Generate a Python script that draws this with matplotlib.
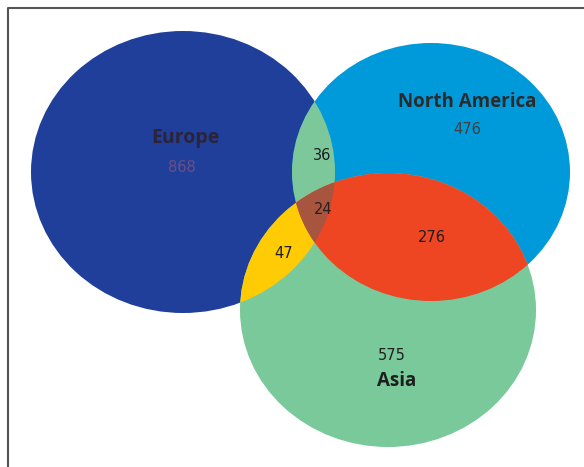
import numpy as np
import matplotlib
matplotlib.use("Agg")
import matplotlib.pyplot as plt
from matplotlib.patches import Ellipse, Polygon

# set names and counts for each region
set_names = ["Europe", "North America", "Asia"]
only_counts = [868, 476, 575]
pair_labels = ["Europe & North America", "Europe & Asia", "North America & Asia"]
pair_counts = [36, 47, 276]
triple_count = 24

# layout of the ellipses (pixel coords, y down)
centers = [(183, 172), (431, 172), (388, 310)]
radii = [(152, 141), (139, 129), (148, 137)]
set_colors = ["#1f3f9a", "#0099da", "#79c99a"]
pair_colors = ["#7dc89b", "#ffcb05", "#ee4523"]
triple_color = "#a8553f"

fig = plt.figure(figsize=(5.84, 4.67), dpi=100)
ax = fig.add_axes([0, 0, 1, 1])
ax.set_xlim(0, 584)
ax.set_ylim(467, 0)
ax.axis("off")

# frame line top and left
ax.plot([8, 8, 584], [467, 8, 8], color="#555555", lw=1.5, solid_capstyle="butt")


def ell(i, color):
    (cx, cy), (rx, ry) = centers[i], radii[i]
    return Ellipse((cx, cy), 2 * rx, 2 * ry, facecolor=color, edgecolor="none")


def ell_points(i, n=720):
    (cx, cy), (rx, ry) = centers[i], radii[i]
    t = np.linspace(0, 2 * np.pi, n, endpoint=False)
    return np.column_stack([cx + rx * np.cos(t), cy + ry * np.sin(t)])


def inside(i, pts):
    (cx, cy), (rx, ry) = centers[i], radii[i]
    return ((pts[:, 0] - cx) / rx) ** 2 + ((pts[:, 1] - cy) / ry) ** 2 <= 1


# whole sets
for i in range(3):
    ax.add_patch(ell(i, set_colors[i]))

# pairwise overlaps: draw one ellipse clipped to the other
pairs = [(0, 1), (0, 2), (1, 2)]
for (a, b), c in zip(pairs, pair_colors):
    clip = ell(b, "none")
    ax.add_patch(clip)
    p = ell(a, c)
    ax.add_patch(p)
    p.set_clip_path(clip)

# triple overlap: Europe clipped to the (convex) NA & Asia intersection
pa = ell_points(1)
pb = ell_points(2)
pts = np.vstack([pa[inside(2, pa)], pb[inside(1, pb)]])
ctr = pts.mean(axis=0)
order = np.argsort(np.arctan2(pts[:, 1] - ctr[1], pts[:, 0] - ctr[0]))
poly = Polygon(pts[order], closed=True, facecolor="none", edgecolor="none")
ax.add_patch(poly)
p = ell(0, triple_color)
ax.add_patch(p)
p.set_clip_path(poly)

font = ["Open Sans", "DejaVu Sans"]
nfont = "DejaVu Sans"
ax.text(185, 138, set_names[0], ha="center", va="center", fontsize=14,
        fontweight="bold", color="#2b2438", family=font)
ax.text(182, 168, str(only_counts[0]), ha="center", va="center", fontsize=10.5,
        color="#6b4f80", family=nfont)
ax.text(467, 102, set_names[1], ha="center", va="center", fontsize=13.5,
        fontweight="bold", color="#2b2b2b", family=font)
ax.text(467, 130, str(only_counts[1]), ha="center", va="center", fontsize=10.5,
        color="#404040", family=nfont)
ax.text(397, 381, set_names[2], ha="center", va="center", fontsize=13.5,
        fontweight="bold", color="#1e1e1e", family=font)
ax.text(392, 355, str(only_counts[2]), ha="center", va="center", fontsize=10.5,
        color="#202020", family=nfont)

pair_pos = [(322, 155), (284, 253), (432, 238)]
for (x, y), v in zip(pair_pos, pair_counts):
    ax.text(x, y, str(v), ha="center", va="center", fontsize=10.5,
            color="#1e1e1e", family=nfont)
ax.text(323, 210, str(triple_count), ha="center", va="center", fontsize=10.5,
        color="#2a1e1e", family=nfont)

fig.savefig("out.png", dpi=100)
